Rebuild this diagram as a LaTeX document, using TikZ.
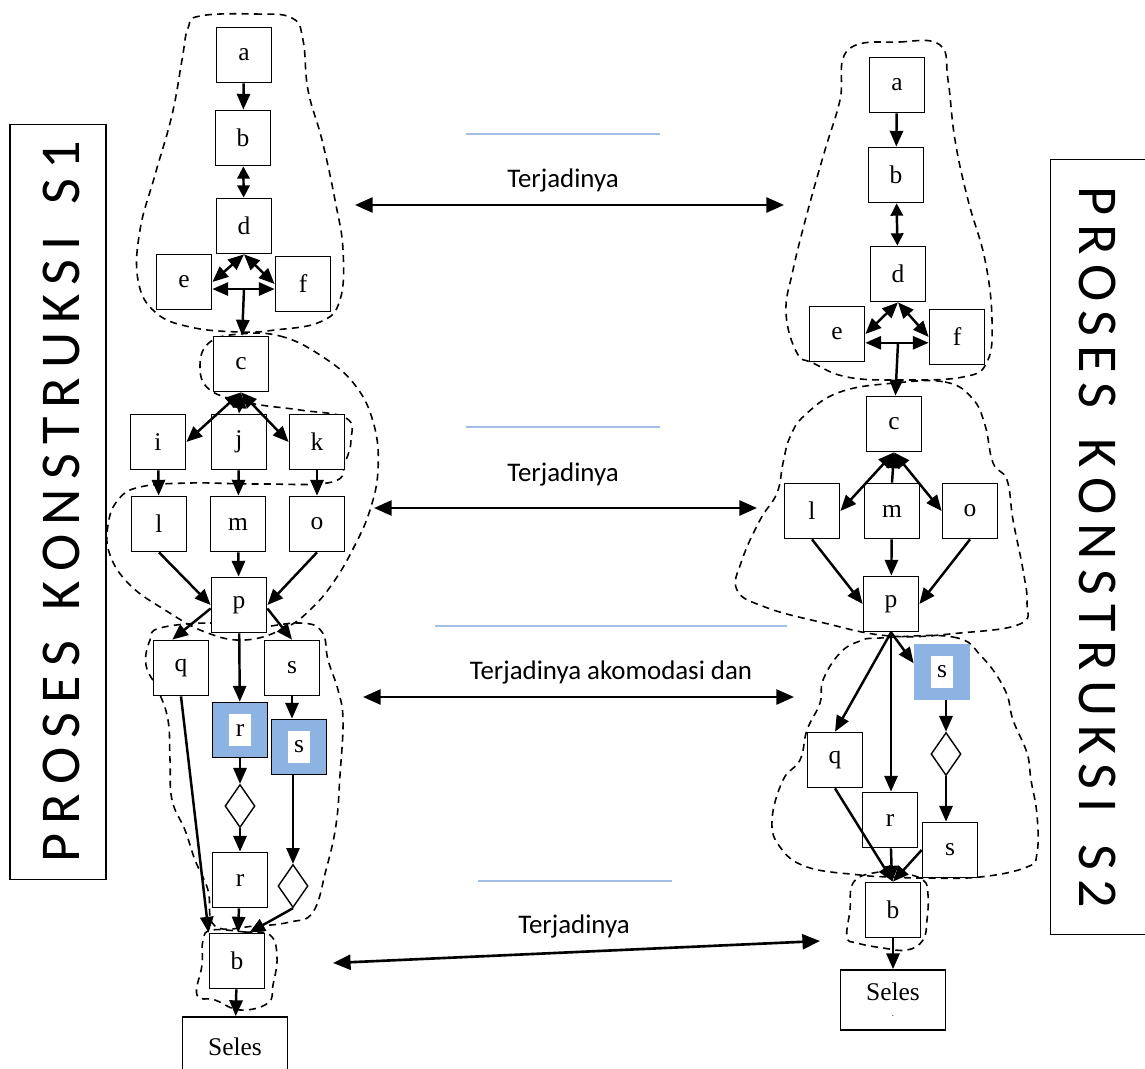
\documentclass[tikz,border=0pt]{standalone}
\usepackage{fontspec}
\setmainfont{Liberation Serif}
\newfontfamily\sansfont{Carlito}
\usepackage{tikz}
\usetikzlibrary{arrows.meta,shapes.geometric,calc}

\definecolor{hlblue}{RGB}{141,179,226}
\definecolor{ruleblue}{RGB}{163,190,226}

% white patch behind the letter of a highlighted box
\newcommand{\inbox}[1]{{\fboxsep=0pt\colorbox{white}{\parbox[c][18pt][c]{13pt}{\centering #1}}}}
% spaced-out font and word gap for the side labels
\newcommand{\stagefont}{\sansfont\fontsize{32}{34}\selectfont\spaceskip 5.2pt\relax}
\newcommand{\wgap}{\hspace{12.5pt}}

\begin{document}
\begin{tikzpicture}[
  x=0.02cm, y=-0.02cm,
  box/.style={draw, line width=1pt, fill=white, minimum width=1.1cm, minimum height=1.1cm, inner sep=0pt, font=\fontsize{14.5}{16}\selectfont},
  hlbox/.style={box, fill=hlblue},
  endbox/.style={box, minimum width=2.1cm, minimum height=1.2cm, align=center},
  gate/.style={draw, diamond, line width=0.8pt, fill=white, minimum width=0.6cm, minimum height=0.86cm, inner sep=0pt},
  arrow/.style={-{Triangle[length=9pt,width=7.5pt]}, line width=1.4pt},
  twoway/.style={{Triangle[length=9pt,width=7.5pt]}-{Triangle[length=9pt,width=7.5pt]}, line width=1.4pt},
  shortway/.style={{Triangle[length=7pt,width=7pt]}-{Triangle[length=7pt,width=7pt]}, line width=1.4pt},
  link/.style={{Triangle[length=10pt,width=8.5pt]}-{Triangle[length=10pt,width=8.5pt]}, line width=1.5pt},
  group/.style={dash pattern=on 4pt off 3pt, line width=0.9pt},
  rule/.style={ruleblue, line width=1.6pt},
  note/.style={font=\sansfont\fontsize{15.3}{18}\selectfont, anchor=base},
  stage/.style={draw, line width=1pt, inner sep=0pt, font=\stagefont},
]
  \path[use as bounding box, clip] (0,0) rectangle (1145,1068);

  % dashed groupings, S1
  \draw[group] plot[smooth cycle, tension=0.7] coordinates {(200,16) (255,14) (292,18) (303,40) (308,90) (322,140) (335,200) (343,250) (340,300) (320,322) (275,330) (240,332) (190,327) (155,312) (138,280) (140,230) (155,175) (172,115) (182,60) (188,28)};
  \draw[group] plot[smooth cycle, tension=0.7] coordinates {(240,334) (280,336) (320,355) (355,385) (374,425) (378,470) (370,510) (355,545) (335,580) (312,608) (285,628) (245,640) (205,632) (165,610) (130,585) (110,555) (108,525) (118,500) (140,487) (190,483) (260,484) (332,482) (345,462) (351,440) (346,418) (300,410) (250,403) (210,390) (200,365) (210,342)};
  \draw[group] plot[smooth cycle, tension=0.7] coordinates {(160,628) (210,623) (250,628) (300,623) (322,632) (328,660) (338,690) (343,720) (340,775) (336,825) (326,870) (313,912) (290,922) (255,926) (215,926) (208,890) (195,860) (185,830) (172,800) (170,760) (168,720) (158,690) (146,665) (150,640)};
  \draw[group] plot[smooth cycle, tension=0.7] coordinates {(212,930) (245,932) (270,935) (277,957) (273,985) (268,1003) (240,1010) (215,1000) (197,995) (202,965) (203,940)};

  % dashed groupings, S2
  \draw[group] plot[smooth cycle, tension=0.7] coordinates {(848,50) (900,42) (940,45) (948,80) (955,140) (968,200) (985,260) (992,320) (987,362) (963,377) (900,380) (847,377) (813,363) (797,353) (786,313) (793,270) (808,210) (825,150) (840,100)};
  \draw[group] plot[smooth cycle, tension=0.7] coordinates {(895,383) (945,382) (972,398) (985,425) (993,463) (1007,480) (1013,520) (1023,570) (1027,603) (1020,624) (960,633) (890,636) (820,622) (765,607) (737,590) (742,560) (760,520) (777,493) (783,463) (790,437) (805,415) (840,392)};
  \draw[group] plot[smooth cycle, tension=0.7] coordinates {(880,638) (953,637) (982,657) (1005,690) (1013,720) (1027,753) (1031,780) (1037,815) (1037,853) (1027,867) (980,877) (925,878) (890,877) (860,875) (807,867) (780,847) (772,820) (783,780) (800,760) (807,730) (820,703) (823,680) (840,653) (860,641)};
  \draw[group] plot[smooth cycle, tension=0.7] coordinates {(873,873) (900,873) (923,880) (928,895) (927,920) (923,940) (907,950) (883,948) (857,943) (847,937) (850,910) (853,883)};

  % side labels
  \node[stage, rotate=90, minimum width=15.1cm, minimum height=1.92cm, text height=25pt] (stage1) at (58,502) {P R O S E S \wgap K O N S T R U K S I \wgap S 1};
  \node[stage, rotate=-90, minimum width=15.5cm, minimum height=1.9cm] (stage2) at (1098,547) {P R O S E S \wgap K O N S T R U K S I \wgap S 2\hspace{6pt}};

  % S1
  \node[box] (a1) at (244,55) {a};
  \node[box] (b1) at (243,138) {b};
  \node[box] (d1) at (244,226) {d};
  \node[box] (e1) at (184,282) {e};
  \node[box] (f1) at (303,284) {f};
  \node[box] (c1) at (241,364) {c};
  \node[box] (i1) at (158,442) {i};
  \node[box] (j1) at (239,442) {j};
  \node[box] (k1) at (317,442) {k};
  \node[box] (l1) at (159,524) {l};
  \node[box] (m1) at (238,524) {m};
  \node[box] (o1) at (317,524) {o};
  \node[box] (p1) at (239,605) {p};
  \node[box] (q1) at (181,668) {q};
  \node[box] (s1) at (292,668) {s};
  \node[hlbox] (rh1) at (240,730) {\inbox{r}};
  \node[hlbox] (sh1) at (299,747) {\inbox{s}};
  \node[gate] (gr1) at (240,806) {};
  \node[gate] (gs1) at (293,886) {};
  \node[box] (rb1) at (240,880) {r};
  \node[box] (bb1) at (237,961) {b};
  \node[endbox] (end1) at (235,1047) {Seles};

  \coordinate (fk1) at ([yshift=-4pt]e1.east -| d1.south);
  \draw[arrow] (a1) -- (b1);
  \draw[shortway] (b1) -- (d1);
  \draw[twoway] (d1.south) -- (e1.east);
  \draw[twoway] (d1.south) -- (f1.west);
  \draw[twoway] ([yshift=-4pt]e1.east) -- ([yshift=-4pt]e1.east -| f1.west);
  \draw[arrow] (fk1) -- (c1);
  \draw[twoway] (c1.south) -- (i1.east);
  \draw[twoway] (c1.south) -- (j1.north);
  \draw[twoway] (c1.south) -- (k1.west);
  \draw[arrow] (i1) -- (l1);
  \draw[arrow] (j1) -- (m1);
  \draw[arrow] (k1) -- (o1);
  \draw[arrow] (l1.south) -- (p1.west);
  \draw[arrow] (m1) -- (p1);
  \draw[arrow] (o1.south) -- (p1.east);
  \draw[arrow] ([yshift=-2pt]p1.west) -- ([xshift=-5pt]q1.north);
  \draw[arrow] ([yshift=-2pt]p1.east) -- (s1.north);
  \draw[arrow] (p1) -- (rh1);
  \draw[arrow] (s1.south) -- (s1.south |- sh1.north);
  \draw[arrow] (rh1) -- (gr1);
  \draw[arrow] (gr1) -- (rb1);
  \draw[arrow] (sh1.south -| gs1) -- (gs1.north);
  \draw[arrow] (gs1.south) -- ([xshift=7pt]bb1.north);
  \draw[arrow] (rb1) -- (bb1);
  \draw[arrow] (q1.south) -- (bb1.north west);
  \draw[arrow] (bb1) -- (end1);

  % S2
  \node[box] (a2) at (897,85) {a};
  \node[box] (b2) at (896,175) {b};
  \node[box] (d2) at (898,274) {d};
  \node[box] (e2) at (837,334) {e};
  \node[box] (f2) at (957,337) {f};
  \node[box] (c2) at (894,424) {c};
  \node[box] (l2) at (812,511) {l};
  \node[box] (m2) at (892,511) {m};
  \node[box] (o2) at (970,511) {o};
  \node[box] (p2) at (891,604) {p};
  \node[hlbox, draw=hlblue] (sh2) at (942,672) {\inbox{s}};
  \node[gate] (gs2) at (946,754) {};
  \node[box] (q2) at (835,760) {q};
  \node[box] (r2) at (890,820) {r};
  \node[box] (s2) at (950,850) {s};
  \node[box] (bb2) at (893,910) {b};
  \node[endbox] (end2) at (893,1000) {Seles\\[-7pt]{\tiny .}};

  \coordinate (fk2) at ([yshift=-5pt]e2.east -| d2.south);
  \draw[arrow] (a2) -- (b2);
  \draw[shortway] (b2) -- (d2);
  \draw[twoway] (d2.south) -- (e2.east);
  \draw[twoway] (d2.south) -- (f2.west);
  \draw[twoway] ([yshift=-5pt]e2.east) -- ([yshift=-5pt]e2.east -| f2.west);
  \draw[arrow] (fk2) -- (c2);
  \draw[twoway] (c2.south) -- (l2.east);
  \draw[twoway] (c2.south) -- (o2.west);
  \draw[arrow] (m2.north) -- (c2.south);
  \draw[arrow] (l2.south) -- (p2.west);
  \draw[arrow] (m2) -- (p2);
  \draw[arrow] (o2.south) -- (p2.east);
  \draw[arrow] (p2.south) -- (q2.north);
  \draw[arrow] (p2.south) -- (p2.south |- r2.north);
  \draw[arrow] (p2.south) -- ([yshift=5pt]sh2.west);
  \draw[arrow] (sh2.south -| gs2) -- (gs2.north);
  \draw[arrow] (gs2.south) -- (gs2.south |- s2.north);
  \draw[arrow] (q2.south) -- (bb2.north);
  \draw[arrow] (r2) -- (bb2);
  \draw[arrow] (s2.west) -- (bb2.north);
  \draw[arrow] (bb2) -- (end2);

  % links between the two constructions
  \coordinate (g1a) at (355,205);  \coordinate (g1b) at (784,205);
  \coordinate (g2a) at (374,508);  \coordinate (g2b) at (757,508);
  \coordinate (g3a) at (363,697);  \coordinate (g3b) at (794,697);
  \coordinate (g4a) at (333,963);  \coordinate (g4b) at (820,941);
  \draw[rule] (466,134) -- (660,134);
  \draw[rule] (466,427) -- (660,427);
  \draw[rule] (435,626) -- (787,626);
  \draw[rule] (478,881) -- (672,881);
  \node[note] (t1) at (563,187) {Terjadinya};
  \node[note] (t2) at (563,481) {Terjadinya};
  \node[note] (t3) at (611,679) {Terjadinya akomodasi dan};
  \node[note] (t4) at (574,933) {Terjadinya};
  \draw[link] (g1a) -- (g1b);
  \draw[link] (g2a) -- (g2b);
  \draw[link] (g3a) -- (g3b);
  \draw[link] (g4a) -- (g4b);
\end{tikzpicture}
\end{document}
